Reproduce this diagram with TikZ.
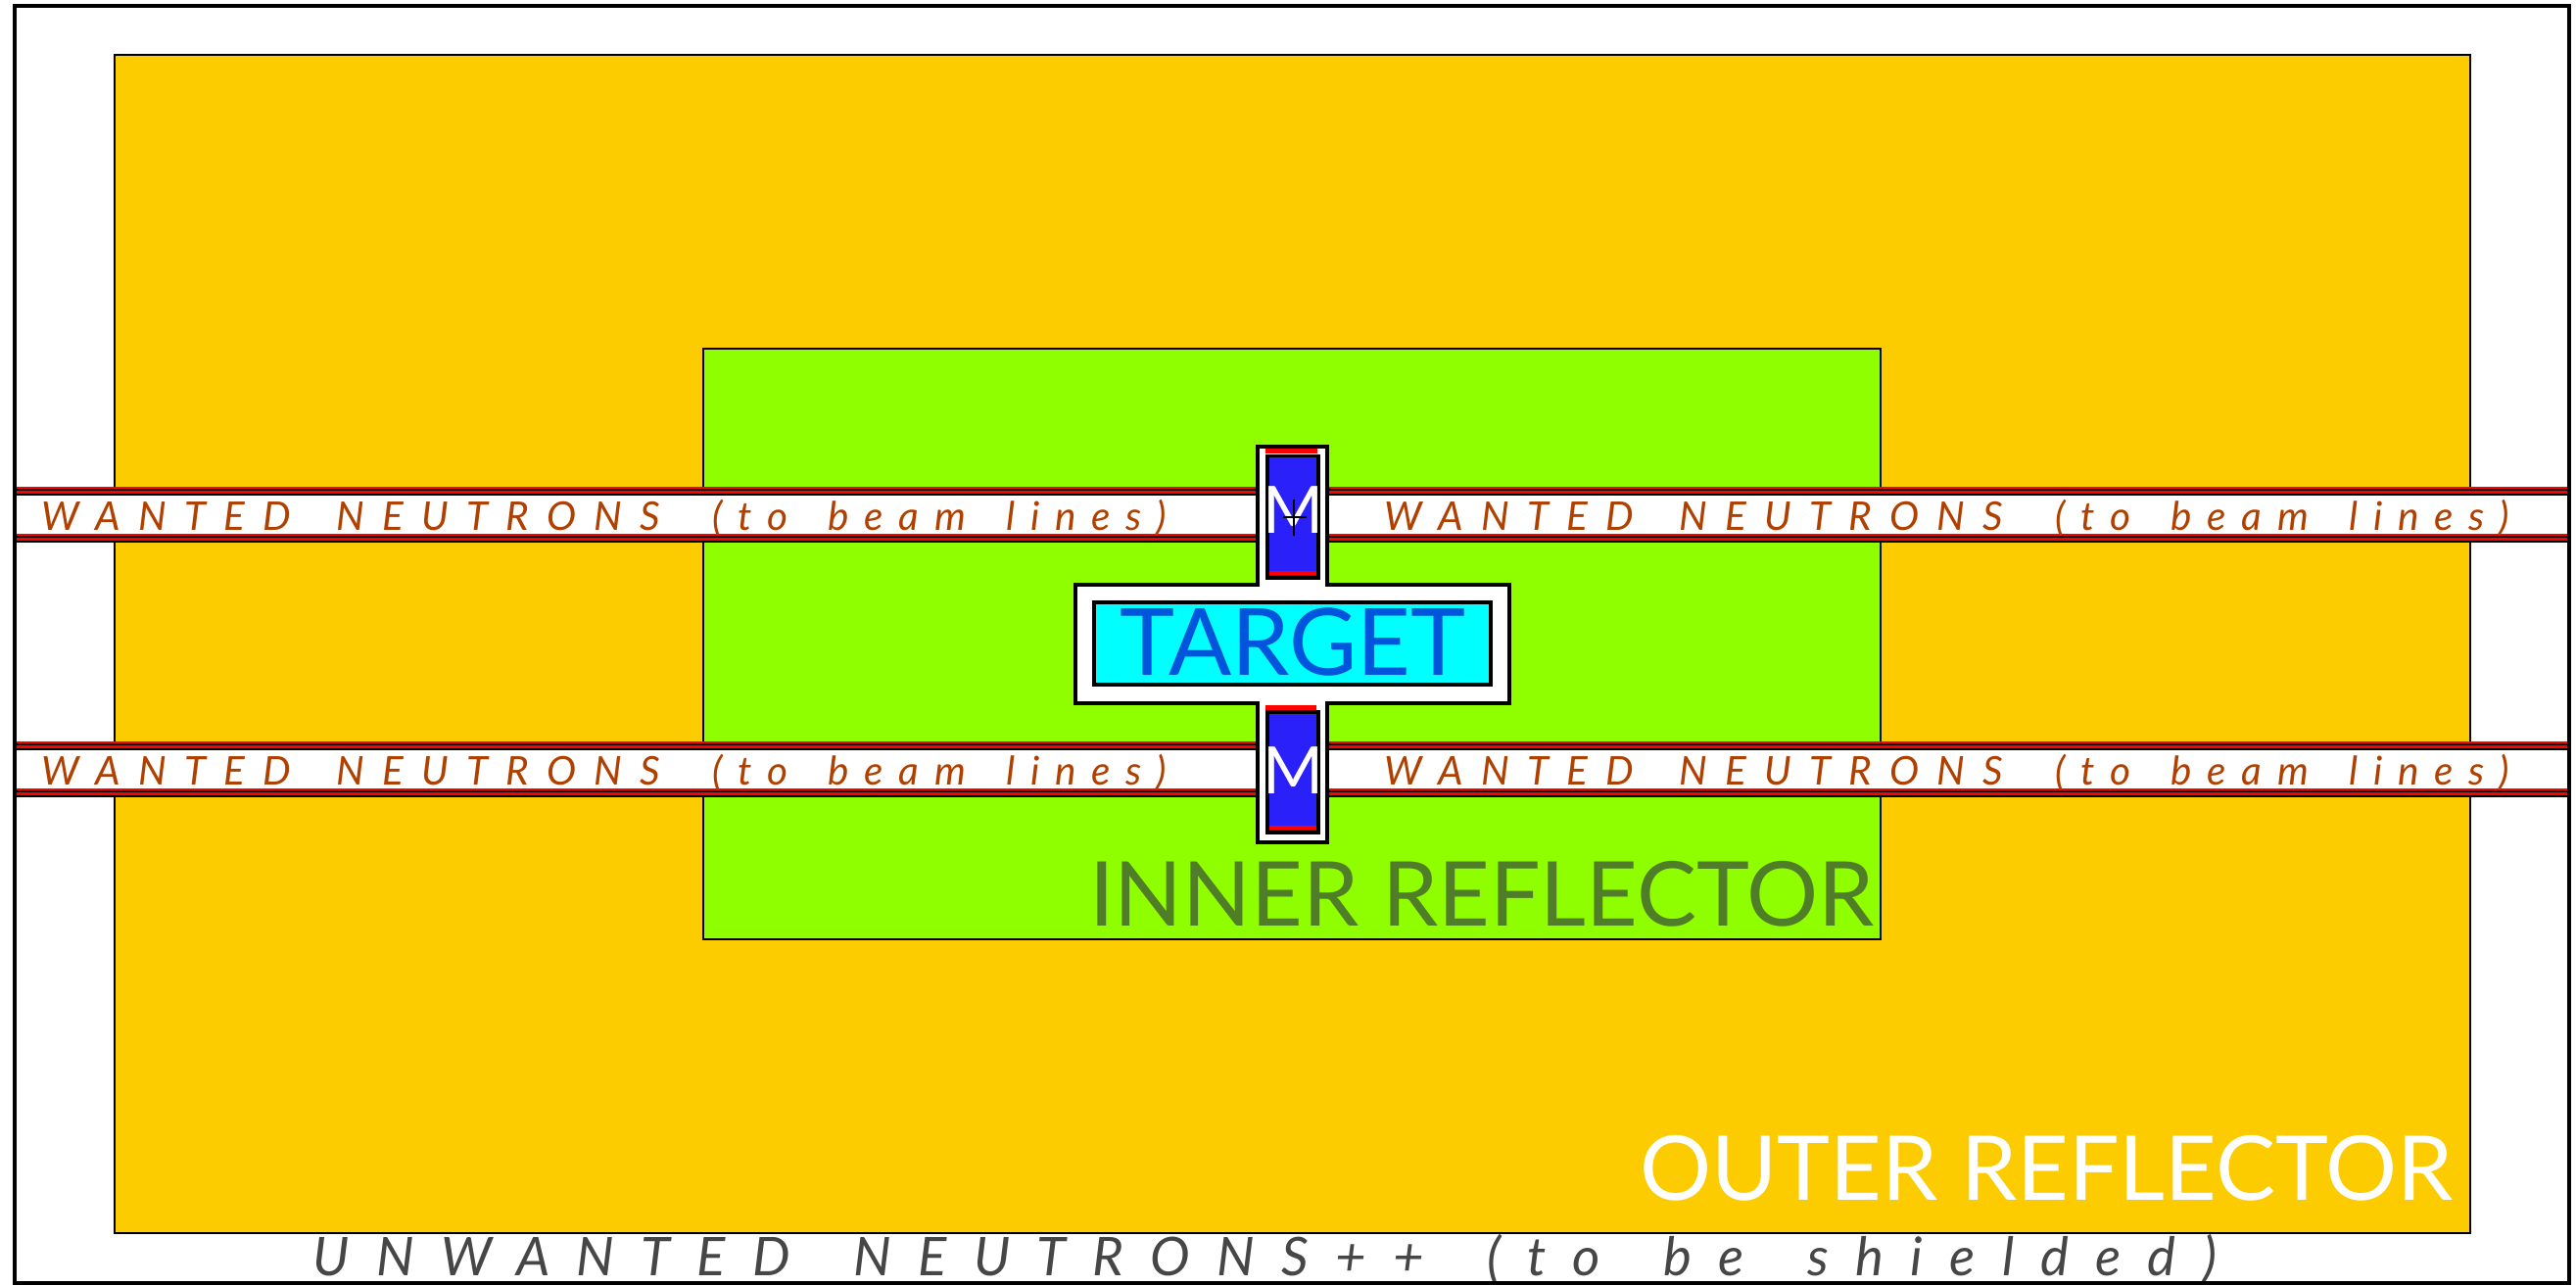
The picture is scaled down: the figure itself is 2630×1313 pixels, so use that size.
\documentclass[tikz,border=0pt]{standalone}
\usepackage{fontspec}
\setmainfont{Lato}
\usepackage{xcolor}
\usepackage{tikz}
\definecolor{outerc}{RGB}{252,204,0}
\definecolor{innerc}{RGB}{143,255,0}
\definecolor{modc}{RGB}{42,32,250}
\definecolor{targc}{RGB}{0,255,255}
\definecolor{targtxt}{RGB}{0,85,220}
\definecolor{beamtxt}{RGB}{176,64,0}
\definecolor{innertxt}{RGB}{80,125,40}
\definecolor{shieldtxt}{RGB}{70,70,70}
\newcommand{\wsp}{\hspace{1.9mm}}
\newcommand{\ssp}{\hspace{2.5mm}}
\newcommand{\wantedtxt}{WANTED \wsp NEUTRONS \hspace{2.6mm}{\addfontfeature{LetterSpace=39}(to \hspace{1.6mm}beam \hspace{1.6mm}lines)}}
% one beam line across the whole plan, centred at y=#1
\newcommand{\beamline}[1]{%
  \fill[white] (15,#1-19.5) rectangle (2623,#1+19.5);
  \foreach \e in {-28.5,19.5}{
    \foreach \k/\col in {0/red,1/black,2/red,3/black}
      \fill[\col] (15,#1+\e+2.25*\k) rectangle (2623,#1+\e+2.25*\k+2.25);
  }}

\begin{document}
\begin{tikzpicture}[x=0.1mm,y=-0.1mm,
  lbl/.style={inner sep=0pt,anchor=base},
  wn/.style={lbl,anchor=base west,text=beamtxt,
    font={\fontsize{11.5}{14}\selectfont\itshape\addfontfeature{LetterSpace=45}}},
  big/.style={lbl,font=\fontsize{26}{30}\selectfont},
  modbox/.style={fill=modc,draw=black,line width=1pt}]
  \useasboundingbox (0,0) rectangle (2630,1313);
  % reflectors
  \filldraw[fill=outerc,line width=0.7pt] (117,56) rectangle (2522,1259);
  \filldraw[fill=innerc,line width=0.7pt] (718,356) rectangle (1920,959);
  % beam lines
  \beamline{525.5}
  \beamline{785.5}
  % target housing with the two moderator wings
  \filldraw[fill=white,line width=0.9pt] (1098,597) -- (1284,597) -- (1284,456) -- (1355,456)
    -- (1355,597) -- (1541,597) -- (1541,718) -- (1355,718) -- (1355,860) -- (1284,860)
    -- (1284,718) -- (1098,718) -- cycle;
  \filldraw[fill=targc,line width=0.9pt] (1117,615) rectangle (1522,699);
  \node[lbl,text=targtxt,font=\fontsize{27}{30}\selectfont] (targ) at (1320,690) {TARGET};
  % moderators
  \fill[red] (1292,458) rectangle (1345,463);
  \draw[modbox] (1294,465.5) rectangle (1346,590);
  \fill[red] (1296,583) rectangle (1344,587);
  \fill[red] (1292,720) rectangle (1344,725);
  \draw[modbox] (1294,727) rectangle (1346,850);
  \fill[red] (1296,843) rectangle (1344,847);
  \node[lbl,text=white,font=\fontsize{19}{22}\selectfont] (m1) at (1320,545) {M};
  \node[lbl,text=white,font=\fontsize{19}{22}\selectfont] (m2) at (1320,810) {M};
  \draw[line width=0.5pt] (1321,510) -- (1321,547) (1310,528) -- (1334,528);
  % band labels
  \node[wn] (wl1) at (42,542) {\wantedtxt};
  \node[wn] (wr1) at (1413,542) {\wantedtxt};
  \node[wn] (wl2) at (42,802) {\wantedtxt};
  \node[wn] (wr2) at (1413,802) {\wantedtxt};
  \node[big,anchor=base east,text=innertxt] (inner) at (1914,945) {INNER REFLECTOR};
  \node[big,anchor=base east,text=white] (outer) at (2505,1225) {OUTER REFLECTOR};
  \node[lbl,anchor=base west,text=shieldtxt,
    font={\fontsize{15.5}{18}\selectfont\itshape\addfontfeature{LetterSpace=50}}]
    (shield) at (319,1302) {UNWANTED \ssp NEUTRONS++ \ssp (to \ssp be \ssp shielded)};
  % outer frame
  \draw[line width=0.9pt] (15,6) rectangle (2623,1310);
\end{tikzpicture}
\end{document}
